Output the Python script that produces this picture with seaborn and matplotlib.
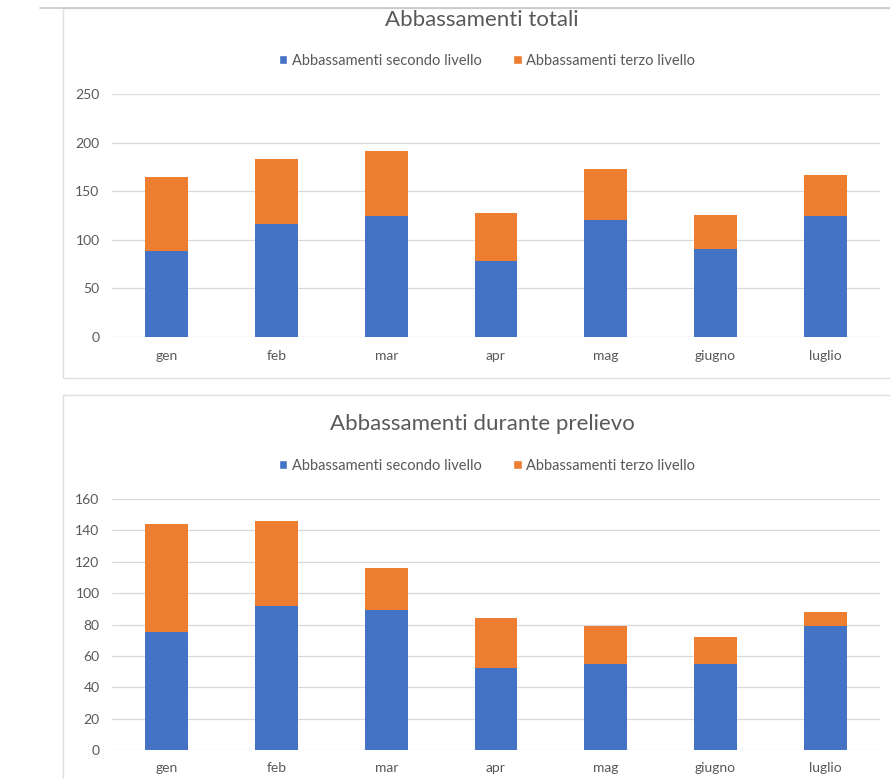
import matplotlib
matplotlib.use("Agg")
import matplotlib.pyplot as plt
import seaborn as sns
import pandas as pd
from matplotlib.patches import Rectangle, Patch
from matplotlib.lines import Line2D

months = ["gen", "feb", "mar", "apr", "mag", "giugno", "luglio"]

# Abbassamenti totali
tot_second = [88, 116, 124, 78, 120, 91, 124]
tot_third = [77, 67, 67, 50, 53, 35, 43]

# Abbassamenti durante prelievo
pre_second = [75, 92, 89, 52, 55, 55, 79]
pre_third = [69, 54, 27, 32, 24, 17, 9]

series_names = ["Abbassamenti secondo livello", "Abbassamenti terzo livello"]
titles = ["Abbassamenti totali", "Abbassamenti durante prelievo"]

BLUE = "#4472C4"
ORANGE = "#ED7D31"
GRID = "#d9d9d9"
TXT = "#595959"

sns.set_theme(style="white")
plt.rcParams['font.family'] = ['Lato', 'DejaVu Sans']

W, H = 890, 779
fig = plt.figure(figsize=(W / 100, H / 100), dpi=100)


def fx(px):
    return px / W


def fy(py):
    return 1 - py / H


# panel frames
fig.add_artist(Line2D([fx(40), fx(890)], [fy(8), fy(8)], color="#c8c8c8", lw=1.2))
fig.add_artist(Rectangle((fx(63), fy(378)), fx(900 - 63), fy(8) - fy(378),
                         fill=False, edgecolor="#e0e0e0", lw=1.0))
fig.add_artist(Rectangle((fx(63), fy(800)), fx(900 - 63), fy(395) - fy(800),
                         fill=False, edgecolor="#e0e0e0", lw=1.0))


def draw(ax_rect, second, third, ymax, step, title, title_y, leg_y):
    l, t, r, b = ax_rect
    ax = fig.add_axes([fx(l), fy(b), fx(r - l), fy(t) - fy(b)])
    df = pd.DataFrame({"month": months, "second": second, "third": third})
    df["total"] = df["second"] + df["third"]
    sns.barplot(data=df, x="month", y="total", color=ORANGE, width=0.39,
                saturation=1, linewidth=0, ax=ax, zorder=3)
    sns.barplot(data=df, x="month", y="second", color=BLUE, width=0.39,
                saturation=1, linewidth=0, ax=ax, zorder=4)
    ax.set_xlim(-0.5, len(months) - 0.5)
    ax.set_ylim(0, ymax)
    ax.set_yticks(range(0, ymax + 1, step))
    ax.yaxis.grid(True, color=GRID, lw=0.9, zorder=0)
    ax.set_axisbelow(True)
    for s in ax.spines.values():
        s.set_visible(False)
    ax.set_xlabel("")
    ax.set_ylabel("")
    ax.tick_params(axis="both", length=0, labelsize=10, colors=TXT)
    ax.tick_params(axis="y", pad=9)
    ax.tick_params(axis="x", pad=9)
    fig.text(fx(482), fy(title_y), title, ha="center", va="center",
             fontsize=16, color=TXT)
    handles = [Patch(facecolor=BLUE, label=series_names[0]),
               Patch(facecolor=ORANGE, label=series_names[1])]
    fig.legend(handles=handles, loc="center", bbox_to_anchor=(fx(487), fy(leg_y)),
               ncol=2, frameon=False, fontsize=10.5, handlelength=0.55,
               handleheight=0.55, handletextpad=0.3, columnspacing=2.2,
               labelcolor=TXT)
    return ax


draw((112, 94, 880, 337), tot_second, tot_third, 250, 50, titles[0], 20, 61)
draw((112, 499, 880, 750), pre_second, pre_third, 160, 20, titles[1], 424, 466)

fig.savefig("out.png", dpi=100, facecolor="white")
